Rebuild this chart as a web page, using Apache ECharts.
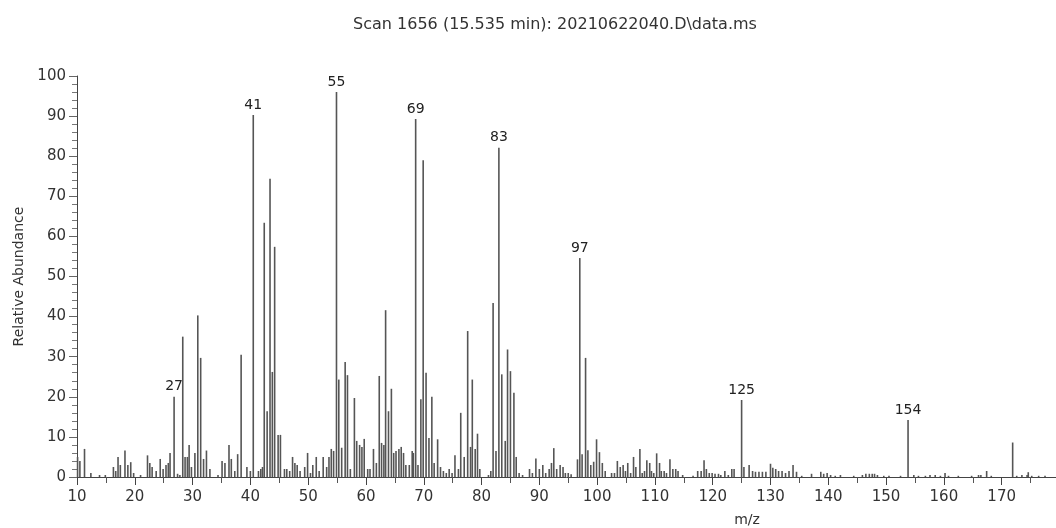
<!DOCTYPE html>
<html>
<head>
<meta charset="utf-8">
<title>Scan 1656 mass spectrum</title>
<script src="https://cdn.jsdelivr.net/npm/echarts@6/dist/echarts.min.js"></script>
<style>
  html, body { margin: 0; padding: 0; background: #fff; }
  #chart { width: 1056px; height: 528px; }
</style>
</head>
<body>
<div id="chart"></div>
<script>
const titleText = 'Scan 1656 (15.535 min): 20210622040.D\\data.ms';

// m/z of each line (ten per row)
const mz = [
  10.1, 10.5, 11.3, 12.4, 13.9, 14.9, 16.3, 16.7, 17.1, 17.5,
  18.3, 18.8, 19.3, 19.8, 21, 22.2, 22.6, 23, 23.7, 24.4,
  24.9, 25.4, 25.8, 26.1, 26.8, 27.4, 27.8, 28.3, 28.7, 29.1,
  29.4, 29.8, 30.4, 30.9, 31.4, 31.9, 32.4, 33, 34.4, 35.1,
  35.6, 36.3, 36.7, 37.3, 37.8, 38.4, 39.4, 40, 40.5, 41.4,
  41.8, 42.1, 42.4, 42.9, 43.4, 43.8, 44.2, 44.8, 45.2, 45.9,
  46.3, 46.8, 47.3, 47.7, 48.1, 48.6, 49.4, 49.9, 50.4, 50.8,
  51.4, 51.9, 52.6, 53.2, 53.6, 54, 54.4, 54.9, 55.3, 55.8,
  56.4, 56.8, 57.3, 58, 58.4, 58.9, 59.3, 59.7, 60.3, 60.7,
  61.3, 61.8, 62.3, 62.7, 63.1, 63.4, 63.9, 64.4, 64.8, 65.2,
  65.7, 66.1, 66.5, 66.9, 67.5, 68, 68.2, 68.6, 69, 69.5,
  69.9, 70.4, 70.9, 71.4, 71.8, 72.4, 72.9, 73.4, 73.9, 74.4,
  74.9, 75.4, 76, 76.4, 77, 77.6, 78.1, 78.4, 78.9, 79.3,
  79.7, 81.2, 81.6, 82, 82.5, 83, 83.5, 84.1, 84.5, 85,
  85.6, 86, 86.5, 87.1, 88.3, 88.8, 89.4, 90, 90.6, 91.1,
  91.7, 92.1, 92.5, 93, 93.6, 94.1, 94.5, 95, 95.5, 96.6,
  97, 97.4, 98, 98.4, 98.9, 99.4, 99.9, 100.4, 100.9, 101.4,
  102.5, 103, 103.5, 104, 104.5, 104.9, 105.3, 105.8, 106.3, 106.7,
  107.4, 107.8, 108.2, 108.6, 109.1, 109.4, 109.8, 110.3, 110.8, 111.1,
  111.6, 112, 112.6, 113.1, 113.6, 114, 114.8, 116.6, 117.4, 118,
  118.5, 118.9, 119.4, 119.9, 120.4, 121, 121.4, 122.1, 122.7, 123.3,
  123.7, 125, 125.4, 126.3, 126.9, 127.4, 128, 128.6, 129.2, 130,
  130.4, 130.9, 131.4, 132, 132.6, 133.2, 133.9, 134.5, 135.4, 137.1,
  138.7, 139.2, 139.8, 140.4, 141.2, 142.1, 144.4, 145.9, 146.5, 147.1,
  147.6, 148, 148.5, 149.6, 150.5, 152.5, 153.8, 154.8, 155.6, 156.8,
  157.6, 158.5, 159.4, 160.2, 160.8, 162.5, 164.8, 166, 166.4, 167.4,
  168.2, 171.9, 172.6, 173.5, 174.4, 174.6, 175.2, 176.4, 177.5
];

// relative abundance, same order as mz
const abundance = [
  5, 4, 7, 1, 0.5, 0.5, 2.5, 1.5, 5, 3,
  6.6, 3, 3.7, 1, 0.5, 5.4, 3.5, 2.5, 1.5, 4.5,
  2, 3, 3.5, 6, 20, 0.8, 0.5, 35, 5, 5,
  8, 2.5, 6, 40.3, 29.7, 4.5, 6.6, 2, 0.5, 4,
  3.5, 8, 4.5, 1.5, 5.7, 30.5, 2.5, 1.5, 90.3, 1.5,
  2, 2.5, 63.4, 16.4, 74.4, 26.2, 57.4, 10.5, 10.5, 2,
  2, 1.5, 5, 3.5, 3, 1.5, 2.5, 6, 1, 3,
  5, 1.5, 5, 2.5, 5, 7, 6.5, 96, 24.3, 7.3,
  28.7, 25.4, 2, 19.7, 9, 8, 7.5, 9.5, 2, 2,
  7, 3.5, 25.2, 8.5, 8, 41.6, 16.4, 22, 6, 6.5,
  7, 7.5, 6, 3, 3, 6.5, 6, 89.3, 3, 19.4,
  79, 26, 9.7, 20, 3.5, 9.4, 2.5, 1.5, 1, 2,
  1, 5.4, 2, 16, 5, 36.4, 7.5, 24.3, 7, 10.8,
  2, 0.5, 1.5, 43.4, 6.5, 82.1, 25.6, 9, 31.8, 26.4,
  21, 5, 1, 0.5, 2, 1, 4.6, 2, 3, 1,
  2, 3.5, 7.2, 2, 3, 2.5, 1, 1, 0.7, 4.4,
  54.6, 5.7, 29.7, 6.7, 3, 3.8, 9.4, 6.2, 3.5, 1.5,
  1, 1, 4, 2.5, 3, 1.5, 3.5, 1, 5, 2.5,
  7, 1, 1.5, 4.2, 3.5, 1.5, 1, 5.9, 3.5, 1.5,
  1.5, 1, 4.4, 2, 2, 1.5, 0.5, 0.3, 1.5, 1.5,
  4.2, 2, 1, 1, 0.8, 0.8, 0.5, 1.5, 0.5, 2,
  2, 19.2, 2.5, 3, 1.5, 1.3, 1.3, 1.3, 1.3, 3.3,
  2.3, 2, 1.5, 1.5, 1, 1.5, 3, 1.3, 0.3, 0.8,
  1.3, 0.8, 1, 0.5, 0.3, 0.5, 0.3, 0.5, 0.8, 0.8,
  0.8, 0.8, 0.5, 0.3, 0.3, 0.3, 14.2, 0.5, 0.3, 0.3,
  0.5, 0.5, 0.3, 1, 0.3, 0.3, 0.3, 0.5, 0.5, 1.5,
  0.3, 8.6, 0.3, 0.5, 0.5, 1.2, 0.3, 0.3, 0.3
];

// labelled peaks: where the line sits and the text printed above it
const peakMz = [26.8, 40.5, 54.9, 68.6, 83, 97, 125, 153.8];
const peakText = ['27', '41', '55', '69', '83', '97', '125', '154'];

const font = 'DejaVu Sans';

const seriesData = mz.map((m, i) => {
  const item = { value: [m, abundance[i]] };
  const k = peakMz.indexOf(m);
  if (k >= 0) {
    item.label = { show: true, formatter: peakText[k] };
  }
  return item;
});

const chart = echarts.init(document.getElementById('chart'));
chart.setOption({
  animation: false,
  title: [
    {
      text: titleText,
      left: 550,
      top: 12,
      textAlign: 'center',
      textStyle: { fontFamily: font, fontSize: 16, fontWeight: 'normal', color: '#333' }
    },
    {
      text: 'm/z',
      left: 742,
      top: 508,
      textAlign: 'center',
      textStyle: { fontFamily: font, fontSize: 14, fontWeight: 'normal', color: '#333' }
    }
  ],
  grid: { left: 77, right: 0, top: 76, bottom: 51 },
  xAxis: {
    type: 'value',
    min: 10,
    max: 179.4,
    interval: 10,
    axisLine: { lineStyle: { color: '#444', width: 1 } },
    axisTick: { show: true, length: 8, lineStyle: { color: '#444' } },
    minorTick: { show: true, splitNumber: 2, length: 6, lineStyle: { color: '#555' } },
    axisLabel: { showMaxLabel: false, margin: 13, fontFamily: font, fontSize: 15, color: '#333' },
    splitLine: { show: false }
  },
  yAxis: {
    type: 'value',
    min: 0,
    max: 100,
    interval: 10,
    name: 'Relative Abundance',
    nameLocation: 'middle',
    nameGap: 49,
    nameTextStyle: { fontFamily: font, fontSize: 14, color: '#333' },
    axisLine: { show: true, lineStyle: { color: '#444', width: 1 } },
    axisTick: { show: true, length: 8, lineStyle: { color: '#666' } },
    minorTick: { show: true, splitNumber: 5, length: 5, lineStyle: { color: '#777' } },
    axisLabel: { margin: 11, fontFamily: font, fontSize: 15, color: '#333' },
    splitLine: { show: false }
  },
  series: [
    {
      type: 'bar',
      barWidth: 1.6,
      data: seriesData,
      itemStyle: { color: '#555' },
      label: {
        show: false,
        position: 'top',
        distance: 3,
        fontFamily: font,
        fontSize: 14,
        color: '#222'
      }
    }
  ]
});
</script>
</body>
</html>
